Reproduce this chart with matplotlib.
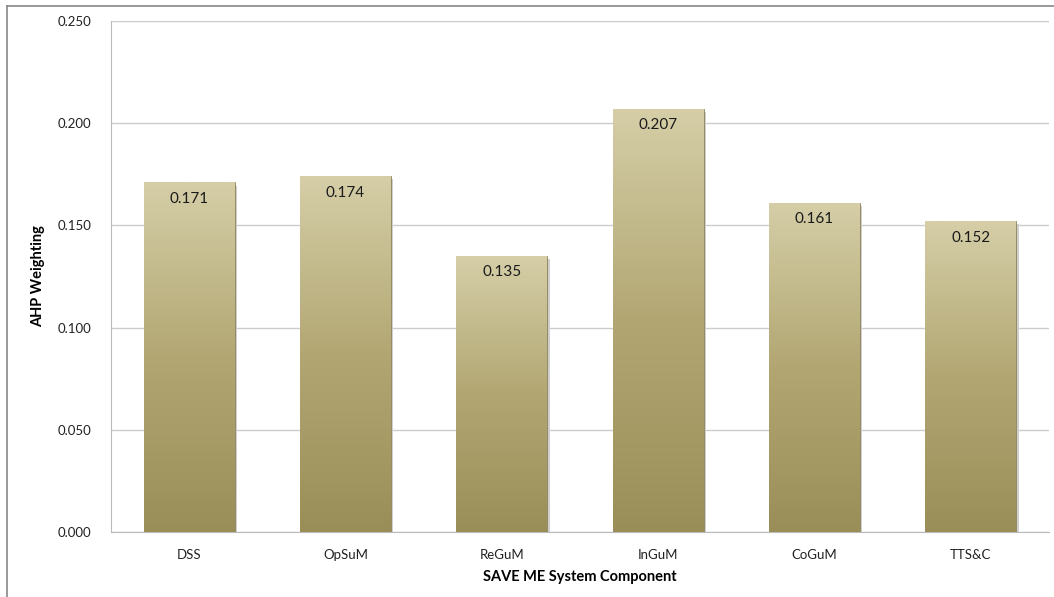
import matplotlib
matplotlib.use("Agg")
import matplotlib.pyplot as plt
import numpy as np
from matplotlib.colors import LinearSegmentedColormap
from matplotlib.lines import Line2D

plt.rcParams["font.family"] = ["Lato", "DejaVu Sans"]

categories = ["DSS", "OpSuM", "ReGuM", "InGuM", "CoGuM", "TTS&C"]
values = [0.171, 0.174, 0.135, 0.207, 0.161, 0.152]
yticks = [0.0, 0.05, 0.10, 0.15, 0.20, 0.25]

W, H = 1054, 597
fig = plt.figure(figsize=(W / 100, H / 100), dpi=100)
ax = fig.add_axes([111 / W, 1 - 532 / H, (1049 - 111) / W, (532 - 21) / H])

x = np.arange(len(categories))
bw = 0.58
cmap = LinearSegmentedColormap.from_list("g", ["#9a8e58", "#b2a773", "#d5cea7"])
bars = ax.bar(x, values, width=bw, color="none", edgecolor="#8a8050", linewidth=0.6, zorder=3)
grad = np.linspace(0, 1, 256).reshape(-1, 1)
for b in bars:
    x0, y0, w, h = b.get_x(), b.get_y(), b.get_width(), b.get_height()
    ax.bar(x0 + w / 2 + 0.015, h, width=w, bottom=-0.0015, color="#cfcfcf", zorder=2, linewidth=0)
    im = ax.imshow(grad, cmap=cmap, aspect="auto", origin="lower",
                   extent=(x0, x0 + w, y0, y0 + h), zorder=3)
    im.set_clip_path(b)

for xi, v in zip(x, values):
    ax.text(xi, v - 0.0045, f"{v:.3f}", ha="center", va="top", fontsize=11,
            color="#1a1a1a", zorder=5)

ax.set_xlim(-0.5, len(categories) - 0.5)
ax.set_ylim(0, 0.25)
ax.set_yticks(yticks)
ax.set_yticklabels([f"{t:.3f}" for t in yticks], fontsize=9.5, color="#222222")
ax.set_xticks(x)
ax.set_xticklabels(categories, fontsize=9.5, color="#222222")
ax.tick_params(length=0)
ax.tick_params(axis="y", pad=14)
ax.tick_params(axis="x", pad=12)
ax.grid(axis="y", color="#cccccc", linewidth=1, zorder=0)
ax.set_axisbelow(True)
for s in ["top", "right"]:
    ax.spines[s].set_visible(False)
for s in ["left", "bottom"]:
    ax.spines[s].set_color("#bbbbbb")
ax.set_xlabel("SAVE ME System Component", fontsize=10.5, fontweight="bold", labelpad=7)
ax.set_ylabel("AHP Weighting", fontsize=10.5, fontweight="bold", labelpad=9)

fig.add_artist(Line2D([7 / W, 1], [1 - 6 / H, 1 - 6 / H], color="#888888", linewidth=1.2, transform=fig.transFigure))
fig.add_artist(Line2D([7 / W, 7 / W], [0, 1 - 6 / H], color="#888888", linewidth=1.2, transform=fig.transFigure))

fig.savefig("out.png", dpi=100)
